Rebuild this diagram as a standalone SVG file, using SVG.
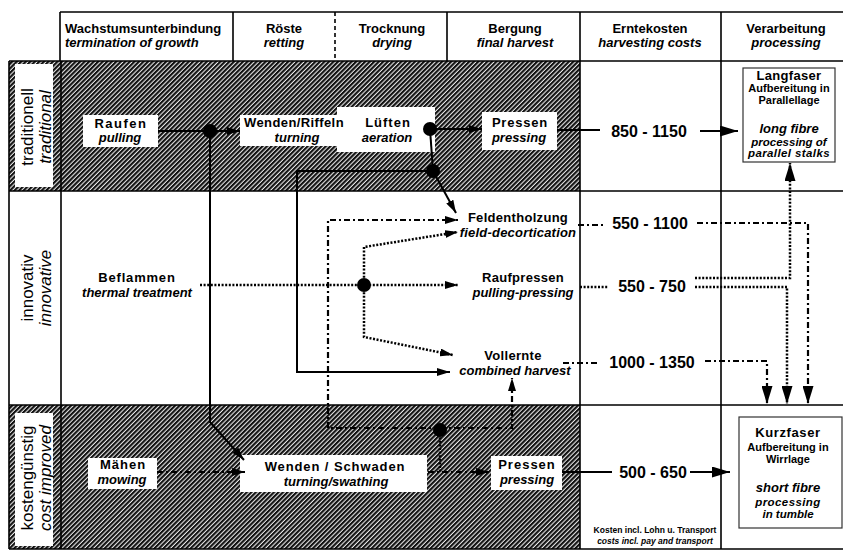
<svg xmlns="http://www.w3.org/2000/svg" width="843" height="551" viewBox="0 0 843 551">
  <style>
    text { font-family: "Liberation Sans", Arial, sans-serif; fill: #000; }
    .h { font-size: 13px; font-weight: bold; text-anchor: middle; }
    .hl { font-size: 13px; font-weight: bold; }
    .i { font-style: italic; }
    .lbl { font-size: 17px; text-anchor: middle; }
    .n { font-size: 13px; font-weight: bold; text-anchor: middle; }
    .s { font-size: 11px; font-weight: bold; text-anchor: middle; }
    .si { font-size: 11.5px; font-weight: bold; font-style: italic; text-anchor: middle; }
    .c { font-size: 16px; font-weight: bold; text-anchor: middle; }
    .note { font-size: 8.5px; font-weight: bold; text-anchor: middle; }
    .grid { stroke: #000; stroke-width: 1.6; fill: none; }
    .box { fill: #fff; }
    .fbox { fill: #fff; stroke: #333; stroke-width: 1.2; }
    .ln { stroke: #000; stroke-width: 2; fill: none; }
    .dt { stroke: #000; stroke-width: 2.5; fill: none; stroke-dasharray: 2 1.6; }
    .dd { stroke: #000; stroke-width: 2.2; fill: none; stroke-dasharray: 6 3 2 3; }
    .dot { fill: #000; }
  </style>
  <defs>
    <pattern id="hatch" width="3.2" height="3.2" patternUnits="userSpaceOnUse" patternTransform="rotate(-45)">
      <rect width="3.2" height="3.2" fill="#e8e8e8"/>
      <rect width="3.2" height="2.1" fill="#111"/>
    </pattern>
    <marker id="a" viewBox="0 0 13 8" refX="13" refY="4" markerWidth="13" markerHeight="8" markerUnits="userSpaceOnUse" orient="auto">
      <path d="M0,0 L13,4 L0,8 Z" fill="#000"/>
    </marker>
    <marker id="A" viewBox="0 0 18 11" refX="18" refY="5.5" markerWidth="18" markerHeight="11" markerUnits="userSpaceOnUse" orient="auto">
      <path d="M0,0 L18,5.5 L0,11 Z" fill="#000"/>
    </marker>
  </defs>

  <rect width="843" height="551" fill="#fff"/>

  <!-- shaded bands -->
  <rect x="9" y="61" width="571" height="130" fill="url(#hatch)"/>
  <rect x="9" y="405" width="571" height="144" fill="url(#hatch)"/>

  <!-- table grid -->
  <g id="grid">
    <path class="grid" d="M60,12 H843 M9,61 H843 M9,191 H843 M9,405 H843 M9,549 H843"/>
    <path class="grid" d="M9,61 V549 M61,61 V549 M60,12 V61 M233,12 V61 M447,12 V61 M580,12 V549 M721,12 V549"/>
    <path class="grid" d="M335,12 V61" stroke-dasharray="4 3"/>
  </g>

  <!-- column headers -->
  <g id="header">
    <text class="hl" x="65" y="33">Wachstumsunterbindung</text>
    <text class="hl i" x="65" y="47">termination of growth</text>
    <text class="h" x="284" y="33">Röste</text>
    <text class="h i" x="284" y="47">retting</text>
    <text class="h" x="392" y="33">Trocknung</text>
    <text class="h i" x="392" y="47">drying</text>
    <text class="h" x="515" y="33">Bergung</text>
    <text class="h i" x="515" y="47">final harvest</text>
    <text class="h" x="650" y="33">Erntekosten</text>
    <text class="h i" x="650" y="47">harvesting costs</text>
    <text class="h" x="786" y="33">Verarbeitung</text>
    <text class="h i" x="786" y="47">processing</text>
  </g>

  <!-- row labels -->
  <g id="row-traditional">
    <rect class="box" x="15" y="64" width="38" height="123"/>
    <text class="lbl" transform="translate(33,127) rotate(-90)">traditionell</text>
    <text class="lbl i" transform="translate(51,127) rotate(-90)">traditional</text>
  </g>
  <g id="row-innovative">
    <text class="lbl" transform="translate(33,288) rotate(-90)">innovativ</text>
    <text class="lbl i" transform="translate(51,288) rotate(-90)">innovative</text>
  </g>
  <g id="row-cost">
    <rect class="box" x="15" y="413" width="38" height="133"/>
    <text class="lbl" transform="translate(33,478) rotate(-90)">kostengünstig</text>
    <text class="lbl i" transform="translate(51,478) rotate(-90)">cost improved</text>
  </g>

  <!-- process nodes -->
  <g id="raufen">
    <rect class="box" x="83" y="115" width="75" height="32"/>
    <text class="n" x="121" y="128" letter-spacing="1.5">Raufen</text>
    <text class="n i" x="120" y="142">pulling</text>
  </g>
  <g id="lueften">
    <rect class="box" x="337" y="107" width="98" height="45"/>
    <text class="n" x="388" y="127" letter-spacing="1">Lüften</text>
    <text class="n i" x="387" y="142">aeration</text>
  </g>
  <g id="wenden-riffeln">
    <rect class="box" x="240" y="115" width="100" height="31"/>
    <text class="n" x="294" y="127" letter-spacing="0.4">Wenden/Riffeln</text>
    <text class="n i" x="297" y="142">turning</text>
  </g>
  <g id="pressen-trad">
    <rect class="box" x="482" y="112" width="75" height="38"/>
    <text class="n" x="520" y="127" letter-spacing="0.8">Pressen</text>
    <text class="n i" x="519" y="142">pressing</text>
  </g>
  <g id="langfaser">
    <rect class="fbox" x="743" y="68" width="92" height="94"/>
    <text class="n" x="789" y="80" letter-spacing="0.3">Langfaser</text>
    <text class="s" x="789" y="92">Aufbereitung in</text>
    <text class="s" x="789" y="104">Parallellage</text>
    <text class="n i" x="789" y="133">long fibre</text>
    <text class="si" x="789" y="146">processing of</text>
    <text class="si" x="789" y="157" letter-spacing="0.4">parallel stalks</text>
  </g>

  <g id="beflammen">
    <text class="n" x="137" y="282" letter-spacing="0.8">Beflammen</text>
    <text class="n i" x="137" y="297">thermal treatment</text>
  </g>
  <g id="feldentholzung">
    <text class="n" x="518" y="222" letter-spacing="0.3">Feldentholzung</text>
    <text class="n i" x="518" y="237" letter-spacing="0.2">field-decortication</text>
  </g>
  <g id="raufpressen">
    <text class="n" x="523" y="282" letter-spacing="0.3">Raufpressen</text>
    <text class="n i" x="523" y="297">pulling-pressing</text>
  </g>
  <g id="vollernte">
    <text class="n" x="513" y="360" letter-spacing="0.3">Vollernte</text>
    <text class="n i" x="515" y="375">combined harvest</text>
  </g>

  <g id="maehen">
    <rect class="box" x="88" y="458" width="69" height="31"/>
    <text class="n" x="123" y="469" letter-spacing="1">Mähen</text>
    <text class="n i" x="122" y="484">mowing</text>
  </g>
  <g id="wenden-schwaden">
    <rect class="box" x="240" y="455" width="187" height="37"/>
    <text class="n" x="335" y="471" letter-spacing="0.9">Wenden / Schwaden</text>
    <text class="n i" x="336" y="486">turning/swathing</text>
  </g>
  <g id="pressen-cost">
    <rect class="box" x="491" y="456" width="71" height="34"/>
    <text class="n" x="527" y="469" letter-spacing="1">Pressen</text>
    <text class="n i" x="527" y="484">pressing</text>
  </g>
  <g id="kurzfaser">
    <rect class="fbox" x="739" y="417" width="103" height="111"/>
    <text class="n" x="788" y="437" letter-spacing="0.6">Kurzfaser</text>
    <text class="s" x="788" y="451">Aufbereitung in</text>
    <text class="s" x="788" y="463">Wirrlage</text>
    <text class="n i" x="788" y="492">short fibre</text>
    <text class="si" x="788" y="506" letter-spacing="0.4">processing</text>
    <text class="si" x="788" y="518">in tumble</text>
  </g>

  <!-- harvesting costs -->
  <g id="costs">
    <text class="c" x="649" y="137">850 - 1150</text>
    <text class="c" x="650" y="229">550 - 1100</text>
    <text class="c" x="652" y="292">550 - 750</text>
    <text class="c" x="652" y="368">1000 - 1350</text>
    <text class="c" x="653" y="478">500 - 650</text>
    <text class="note" x="655" y="533">Kosten incl. Lohn u. Transport</text>
    <text class="note i" x="655" y="544">costs incl. pay and transport</text>
  </g>

  <!-- connectors -->
  <g id="connectors">
    <!-- solid: traditional route -->
    <path class="ln" d="M158,131 H240" marker-end="url(#a)"/>
    <path class="ln" d="M210,131 V422 L244,460" marker-end="url(#a)"/>
    <path class="ln" d="M430,129 H482" marker-end="url(#a)"/>
    <path class="ln" d="M430,129 L433,171"/>
    <path class="ln" d="M433,171 H297 V372 H450" marker-end="url(#a)"/>
    <path class="ln" d="M433,171 L456,213" marker-end="url(#a)"/>
    <path class="ln" d="M557,130 H600"/>
    <path class="ln" d="M700,131 H738" marker-end="url(#A)"/>
    <path class="ln" d="M562,472 H612"/>
    <path class="ln" d="M690,472 H730" marker-end="url(#A)"/>

    <!-- dotted: thermal treatment route -->
    <path class="dt" d="M200,285 H458" marker-end="url(#a)"/>
    <path class="dt" d="M364,285 V247 L458,232" marker-end="url(#a)"/>
    <path class="dt" d="M364,285 V337 L453,355" marker-end="url(#a)"/>
    <path class="dt" d="M580,287 H608"/>
    <path class="dt" d="M695,278 H790 V163" marker-end="url(#A)"/>
    <path class="dt" d="M695,287 H787 V404" marker-end="url(#A)"/>
    <path class="dt" d="M440,430 V472"/>

    <!-- dash-dot: mowing route -->
    <path class="dd" d="M157,472 H245" marker-end="url(#a)"/>
    <path class="dd" d="M428,472 H489" marker-end="url(#a)"/>
    <path class="dd" d="M440,428 H328 V220 H458" marker-end="url(#a)"/>
    <path class="dd" d="M440,428 H512 V378" marker-end="url(#a)"/>
    <path class="dd" d="M578,225 H605"/>
    <path class="dd" d="M697,223 H808 V404" marker-end="url(#A)"/>
    <path class="dd" d="M563,363 H600"/>
    <path class="dd" d="M705,361 H767 V404" marker-end="url(#A)"/>

    <!-- junctions -->
    <circle class="dot" cx="210" cy="131" r="7"/>
    <circle class="dot" cx="430" cy="129" r="7"/>
    <circle class="dot" cx="433" cy="171" r="7"/>
    <circle class="dot" cx="364" cy="285" r="7"/>
    <circle class="dot" cx="440" cy="430" r="7"/>
  </g>
</svg>
